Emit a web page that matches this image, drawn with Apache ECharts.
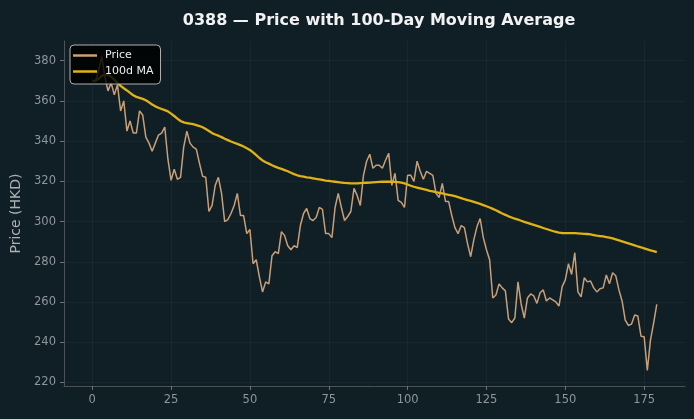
<!DOCTYPE html>
<html>
<head>
<meta charset="utf-8">
<script src="https://cdn.jsdelivr.net/npm/echarts@6/dist/echarts.min.js"></script>
<style>
html,body{margin:0;padding:0;background:#101f26;}
#c{width:694px;height:419px;}
</style>
</head>
<body>
<div id="c"></div>
<script>
const priceValues = [370,369.5,375,382,372,365,369,363,368,355,
360,345,350,344,344,355,353,342,339,335,
339,343,344,347,331,320.5,326,321,322,337,
345,339,337,336,329,322.5,322,305,308,318,
322,314,300,301,304,308,314,303,303,294,
296,279,281,272.5,265,270,269,283,285,284,
295,293,288,286,288,287,298,304,306.5,301.5,
300.5,302,307,306,294,294,292,307,314,307,
300.5,302.5,305,316.5,313,308,323,330,333.5,326.5,
328,328,326.5,330.5,334,318,324,310.5,309.5,307,
323,323,320,330,325,321,325,324,323,314,
312,319,310,310,303,297,294,298,297,289,
282.5,291,297.5,301.5,292,286,281,262,263.5,269,
267,265.5,251.5,249.7,252,270,259,252,262,264,
263,259.3,264.6,266,260.5,262,261,260,258,267.6,
271,279,273.7,284.5,265,262.5,272,270,270.4,267,
265,266.6,267,273.4,269,274.5,273,266,260.5,251,
248.3,249,253.5,253,243,242.7,226,241,249.5,258.8];

const maValues = [370,370,371,372.5,373,373,372,370.5,369,367.5,
366.3,365.2,364,362.8,362,361.5,361,360.3,359.3,358.2,
357.3,356.6,356,355.4,354.8,353.7,352.5,351.2,350,349.3,
349,348.7,348.4,348,347.5,346.9,346,345,344,343.3,
342.7,342,341.2,340.5,339.8,339.2,338.6,338,337.3,336.5,
335.6,334.4,333,331.6,330.4,329.5,328.8,328,327.3,326.7,
326.2,325.6,325,324.3,323.6,323,322.6,322.3,322,321.8,
321.5,321.2,321,320.7,320.4,320.2,320,319.8,319.6,319.4,
319.2,319.1,319,319,319,319.1,319.2,319.3,319.4,319.5,
319.6,319.7,319.8,319.8,319.8,319.8,319.7,319.6,319.4,319,
318.4,317.8,317.3,316.9,316.5,316.1,315.7,315.3,315,314.6,
314.3,314,313.6,313.3,313,312.6,312.1,311.6,311.1,310.7,
310.3,309.8,309.3,308.8,308.2,307.6,307,306.3,305.6,304.8,
304,303.3,302.6,302,301.4,301,300.4,299.8,299.3,298.8,
298.3,297.8,297.3,296.8,296.3,295.8,295.3,294.9,294.5,294.3,
294.2,294.2,294.2,294.2,294.1,294,293.9,293.8,293.6,293.3,
293,292.8,292.6,292.3,292,291.6,291.1,290.6,290.1,289.6,
289.1,288.6,288.1,287.6,287.2,286.7,286.2,285.7,285.3,284.8];

const xTicks = [0,25,50,75,100,125,150,175];
const yTicks = [220,240,260,280,300,320,340,360,380];
const seriesNames = ['Price','100d MA'];
const titleText = '0388 \u2014 Price with 100-Day Moving Average';
const yAxisName = 'Price (HKD)';

const priceData = priceValues.map((v,i)=>[i,v]);
const maData = maValues.map((v,i)=>[i,v]);

const priceColor = '#c89f77';
const maColor = '#dfb317';

const chart = echarts.init(document.getElementById('c'), null, {renderer:'canvas'});
const gridColor = 'rgba(255,255,255,0.035)';
const labelColor = '#8e969a';
chart.setOption({
  backgroundColor:'#101f26',
  animation:false,
  title:{text:titleText,left:374,textAlign:'center',top:8,
    textStyle:{color:'#f2f2f2',fontFamily:'DejaVu Sans',fontWeight:'bold',fontSize:16}},
  grid:{left:64,right:9,top:41,bottom:33},
  legend:{
    orient:'vertical',left:70,top:45,
    data:[{name:seriesNames[0],icon:'rect',itemStyle:{color:priceColor}},
          {name:seriesNames[1],icon:'rect',itemStyle:{color:maColor}}],
    itemWidth:24,itemHeight:2.5,itemGap:5,
    padding:[5,7,7,3],
    backgroundColor:'rgba(0,0,0,0.82)',borderColor:'#b0b0b0',borderWidth:1,borderRadius:4,
    textStyle:{color:'#eeeeee',fontSize:11,fontFamily:'DejaVu Sans',padding:[0,0,0,3]}
  },
  xAxis:{type:'value',min:-8.95,max:187.95,
    axisLine:{show:true,onZero:false,lineStyle:{color:'#4a5358'}},
    axisTick:{show:true,length:4,lineStyle:{color:'#6a7378'},customValues:xTicks},
    axisLabel:{color:labelColor,fontSize:11.5,fontFamily:'DejaVu Sans',margin:8,customValues:xTicks},
    splitLine:{show:true,lineStyle:{color:gridColor}}
  },
  yAxis:{type:'value',min:218.2,max:389.8,
    name:yAxisName,nameLocation:'middle',nameRotate:90,nameGap:40,
    nameTextStyle:{color:'#aab1b5',fontSize:14,fontFamily:'DejaVu Sans'},
    axisLine:{show:true,onZero:false,lineStyle:{color:'#4a5358'}},
    axisTick:{show:true,length:4,lineStyle:{color:'#6a7378'},customValues:yTicks},
    axisLabel:{color:labelColor,fontSize:11.5,fontFamily:'DejaVu Sans',margin:8,customValues:yTicks},
    splitLine:{show:true,lineStyle:{color:gridColor}}
  },
  series:[
    {name:seriesNames[0],type:'line',data:priceData,symbol:'none',
      lineStyle:{color:priceColor,width:1.5},itemStyle:{color:priceColor},z:2},
    {name:seriesNames[1],type:'line',data:maData,symbol:'none',smooth:false,
      lineStyle:{color:maColor,width:2.3},itemStyle:{color:maColor},z:3}
  ]
});
</script>
</body>
</html>
